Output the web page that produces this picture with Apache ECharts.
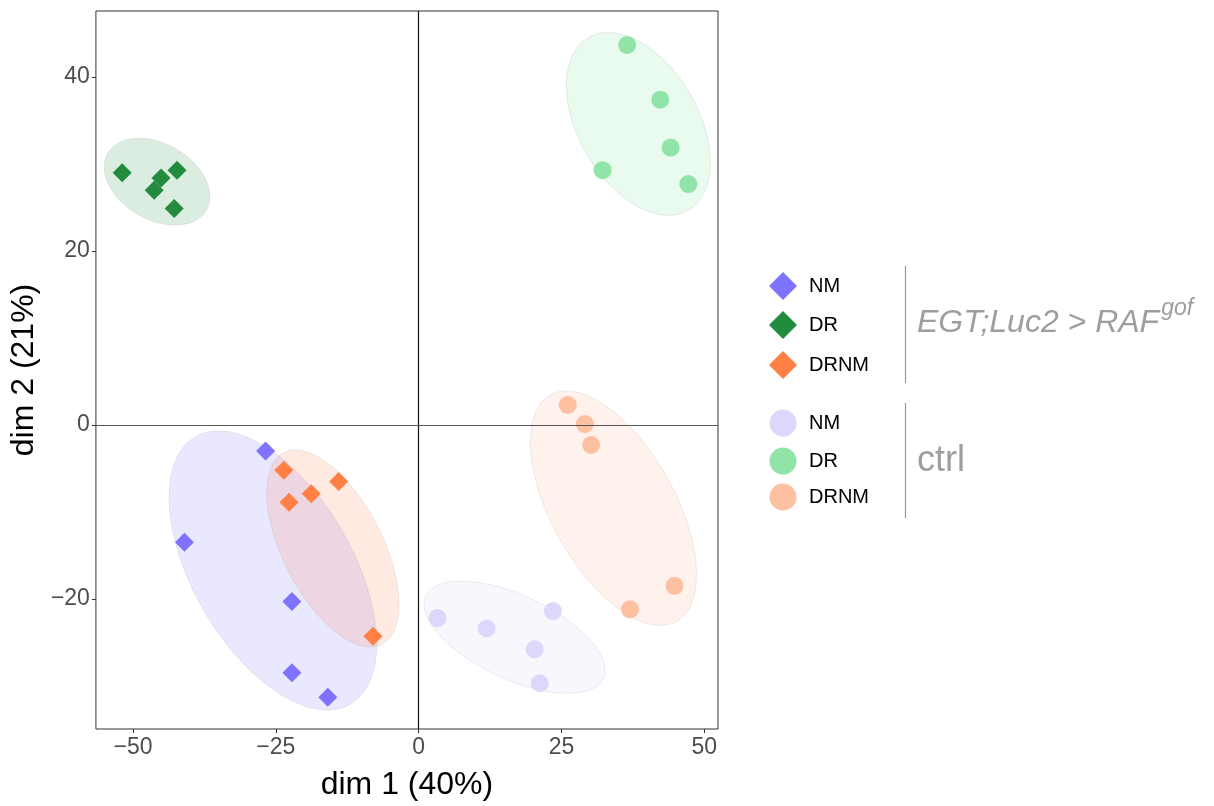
<!DOCTYPE html>
<html><head><meta charset="utf-8">
<script src="https://cdn.jsdelivr.net/npm/echarts@6/dist/echarts.min.js"></script>
<style>html,body{margin:0;padding:0;background:#fff}#c{width:1214px;height:806px}</style>
</head><body><div id="c"></div>
<script>
// ---- data ----
const groupNames = ['NM', 'DR', 'DRNM'];
const rafNM   = [[-26.8,-3.0],[-41.0,-13.5],[-22.2,-20.3],[-22.2,-28.5],[-15.9,-31.3]];
const rafDR   = [[-51.9,29.0],[-45.1,28.4],[-42.3,29.3],[-46.3,27.0],[-42.8,24.9]];
const rafDRNM = [[-23.6,-5.2],[-14.0,-6.5],[-18.8,-7.9],[-22.7,-8.9],[-8.0,-24.3]];
const ctrlNM   = [[3.3,-22.2],[11.9,-23.4],[23.5,-21.4],[20.3,-25.8],[21.2,-29.7]];
const ctrlDR   = [[36.5,43.7],[42.3,37.4],[44.1,31.9],[32.2,29.3],[47.2,27.7]];
const ctrlDRNM = [[26.1,2.3],[29.1,0.1],[30.2,-2.3],[44.8,-18.5],[37.0,-21.2]];
// ellipses: [centerX, centerY, axis1 dx, axis1 dy, axis2 dx, axis2 dy] (data units)
const ellRafNM   = [-25.52,-16.73, 13.55,-15.38, -12.11,-4.58];
const ellRafDR   = [-45.80, 27.97,  8.63, -3.27,  -3.32,-3.77];
const ellRafDRNM = [-15.03,-14.21,  8.57,-11.03,  -7.79,-2.60];
const ellCtrlNM   = [16.78,-24.41, 15.52,-4.75, -3.11,-4.36];
const ellCtrlDR   = [38.46, 34.61,  8.74,-9.93, -9.08,-3.44];
const ellCtrlDRNM = [34.09, -9.57, 11.02,-13.03, -9.48,-3.45];
const xTicks = [-50, -25, 0, 25, 50];
const yTicks = [-20, 0, 20, 40];
const xRange = [-56.5, 52.4];
const yRange = [-34.96, 47.6];
const xTitle = 'dim 1 (40%)';
const yTitle = 'dim 2 (21%)';
const rafTitle = 'EGT;Luc2 > RAF';
const rafSup = 'gof';
const ctrlTitle = 'ctrl';

// ---- style ----
const FONT = '"Liberation Sans", Arial, Helvetica, sans-serif';
const rafColors  = ['#7F72FF', '#228B3D', '#FF7F45'];
const ctrlColors = ['#DCD8FC', '#90E4A8', '#FDC0A0'];
const rafSets = [rafNM, rafDR, rafDRNM];
const ctrlSets = [ctrlNM, ctrlDR, ctrlDRNM];
const rafEll = [ellRafNM, ellRafDR, ellRafDRNM];
const ctrlEll = [ellCtrlNM, ellCtrlDR, ellCtrlDRNM];

function hexA(hex, a) {
  const n = parseInt(hex.slice(1), 16);
  return `rgba(${(n>>16)&255},${(n>>8)&255},${n&255},${a})`;
}
function ellipseSeries(e, color, alpha) {
  return {
    type: 'custom', z: 1, silent: true,
    data: [e], encode: { x: 0, y: 1 },
    renderItem: function (params, api) {
      const cx = api.value(0), cy = api.value(1);
      const ax = api.value(2), ay = api.value(3), bx = api.value(4), by = api.value(5);
      const pts = [];
      for (let i = 0; i < 120; i++) {
        const t = i / 120 * Math.PI * 2;
        pts.push(api.coord([cx + Math.cos(t) * ax + Math.sin(t) * bx, cy + Math.cos(t) * ay + Math.sin(t) * by]));
      }
      return { type: 'polygon', shape: { points: pts },
        style: { fill: hexA(color, alpha), stroke: 'rgba(150,150,150,0.18)', lineWidth: 1 } };
    }
  };
}
const series = [];
rafEll.forEach((e, i) => series.push(ellipseSeries(e, rafColors[i], 0.16)));
ctrlEll.forEach((e, i) => series.push(ellipseSeries(e, ctrlColors[i], 0.2)));
rafSets.forEach((d, i) => series.push({ type: 'scatter', z: 3, data: d, symbol: 'diamond', symbolSize: 19,
  itemStyle: { color: rafColors[i], opacity: 1 } }));
ctrlSets.forEach((d, i) => series.push({ type: 'scatter', z: 3, data: d, symbol: 'circle', symbolSize: 18,
  itemStyle: { color: ctrlColors[i], opacity: 1 } }));
series.push({ type: 'scatter', data: [], z: 2,
  markLine: { silent: true, symbol: 'none', label: { show: false }, animation: false,
    data: [ { xAxis: 0, lineStyle: { color: '#111', width: 1.2, type: 'solid' } },
            { yAxis: 0, lineStyle: { color: '#555', width: 1.2, type: 'solid' } } ] } });

// ---- legend (graphic) ----
const graphic = [];
const legX = 783, textX = 809;
const rafY = [286, 325, 365], ctrlY = [423, 461, 497];
groupNames.forEach((n, i) => {
  const y = rafY[i], h = 14;
  graphic.push({ type: 'polygon', shape: { points: [[legX, y - h], [legX + h, y], [legX, y + h], [legX - h, y]] },
    style: { fill: rafColors[i] } });
  graphic.push({ type: 'text', x: textX, y: y, style: { text: n, font: '20px ' + FONT, fill: '#000', verticalAlign: 'middle' } });
  const y2 = ctrlY[i];
  graphic.push({ type: 'circle', shape: { cx: legX, cy: y2, r: 13.5 }, style: { fill: ctrlColors[i] } });
  graphic.push({ type: 'text', x: textX, y: y2, style: { text: n, font: '20px ' + FONT, fill: '#000', verticalAlign: 'middle' } });
});
graphic.push({ type: 'line', shape: { x1: 905.5, y1: 266, x2: 905.5, y2: 383 }, style: { stroke: '#9a9a9a', lineWidth: 1.2 } });
graphic.push({ type: 'line', shape: { x1: 905.5, y1: 403, x2: 905.5, y2: 518 }, style: { stroke: '#9a9a9a', lineWidth: 1.2 } });
const mainFont = 'italic 32px ' + FONT;
const cv = document.createElement('canvas').getContext('2d');
cv.font = mainFont;
const mainW = cv.measureText(rafTitle).width;
graphic.push({ type: 'text', x: 917, y: 307, style: { text: rafTitle, font: mainFont, fill: '#9e9e9e', verticalAlign: 'top' } });
graphic.push({ type: 'text', x: 917 + mainW + 2, y: 297, style: { text: rafSup, font: 'italic 23px ' + FONT, fill: '#9e9e9e', verticalAlign: 'top' } });
graphic.push({ type: 'text', x: 917, y: 443, style: { text: ctrlTitle, font: '36px ' + FONT, fill: '#9e9e9e', verticalAlign: 'top' } });

const fmt = v => String(v).replace('-', '\u2212');
const chart = echarts.init(document.getElementById('c'), null, { renderer: 'canvas' });
chart.setOption({
  animation: false,
  backgroundColor: '#fff',
  grid: { left: 95, top: 11, width: 623, height: 720, show: true, borderColor: '#333', borderWidth: 1, backgroundColor: 'transparent' },
  xAxis: { type: 'value', min: xRange[0], max: xRange[1],
    name: xTitle, nameLocation: 'middle', nameGap: 40,
    nameTextStyle: { fontSize: 32, color: '#000', fontFamily: FONT },
    axisLine: { show: false, onZero: false }, splitLine: { show: false },
    axisTick: { show: true, length: 4, customValues: xTicks, lineStyle: { color: '#333' } },
    axisLabel: { customValues: xTicks, formatter: fmt, fontSize: 23, color: '#4d4d4d', fontFamily: FONT, margin: 7 } },
  yAxis: { type: 'value', min: yRange[0], max: yRange[1],
    name: yTitle, nameLocation: 'middle', nameGap: 47,
    nameTextStyle: { fontSize: 32, color: '#000', fontFamily: FONT },
    axisLine: { show: false, onZero: false }, splitLine: { show: false },
    axisTick: { show: true, length: 4, customValues: yTicks, lineStyle: { color: '#333' } },
    axisLabel: { customValues: yTicks, formatter: fmt, fontSize: 23, color: '#4d4d4d', fontFamily: FONT, margin: 6 } },
  series: series,
  graphic: graphic
});
</script></body></html>
